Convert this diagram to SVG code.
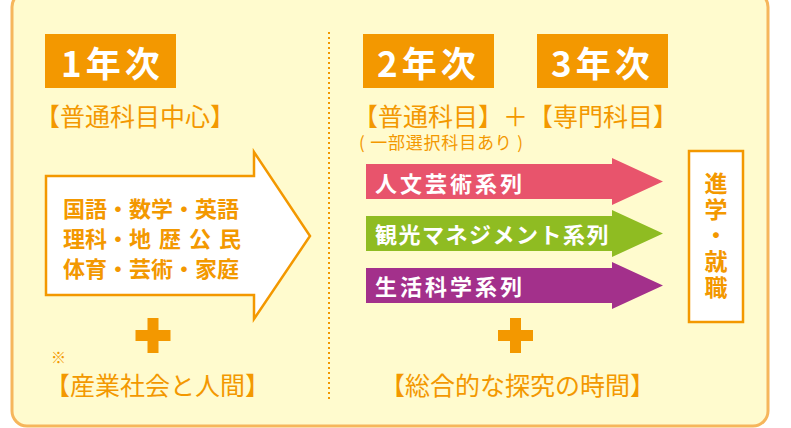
<svg xmlns="http://www.w3.org/2000/svg" width="791" height="428" viewBox="0 0 791 428">
<defs>
<style>
.jp{font-family:"Noto Sans CJK JP","Noto Sans",sans-serif}
.lbl{font-size:25px;fill:#F39800;font-weight:400}
.year{font-size:35px;fill:#fff;font-weight:700;letter-spacing:4px}
.yb{fill:#F39800}
.subj{font-size:22px;fill:#F39800;font-weight:700}
.ser{font-size:22px;fill:#fff;font-weight:700;letter-spacing:3px}
.plus{fill:#F39800}
</style>
</defs>
<rect x="12" y="-8" width="756" height="434" rx="15" fill="#FFFBCE" stroke="#F6B65C" stroke-width="3"/>
<g id="connectors">
<line x1="329" y1="32" x2="329" y2="399" stroke="#F39800" stroke-width="2" stroke-dasharray="2 3"/>
</g>
<g id="year1">
<rect class="yb" x="45" y="34" width="131" height="54"/>
<text class="jp year" x="61" y="77">1年次</text>
</g>
<g id="year2">
<rect class="yb" x="363" y="34" width="131" height="54"/>
<text class="jp year" x="377" y="77">2年次</text>
</g>
<g id="year3">
<rect class="yb" x="537" y="34" width="131" height="54"/>
<text class="jp year" x="551" y="77">3年次</text>
</g>
<g id="label-general">
<text class="jp lbl" x="35" y="126">【普通科目中心】</text>
</g>
<g id="general-arrow">
<path d="M46,176 H254 V152 L310,236 L254,319 V295 H46 Z" fill="#fff" stroke="#F39800" stroke-width="2.5"/>
<text class="jp subj" x="63" y="217">国語・数学・英語</text>
<text class="jp subj" y="247"><tspan x="63">理科・</tspan><tspan x="129 159 189 219">地歴公民</tspan></text>
<text class="jp subj" x="63" y="277">体育・芸術・家庭</text>
</g>
<g id="plus-left">
<rect class="plus" x="135.5" y="330" width="35" height="11"/>
<rect class="plus" x="147.5" y="318" width="11" height="35"/>
</g>
<g id="label-sangyo">
<text class="jp" x="51" y="363" font-size="15" fill="#F39800">※</text>
<text class="jp lbl" x="45" y="395">【産業社会と人間】</text>
</g>
<g id="label-senmon">
<text class="jp lbl" x="353" y="126">【普通科目】＋【専門科目】</text>
<text class="jp" x="359" y="149" font-size="17" fill="#F39800" letter-spacing="0.8">( 一部選択科目あり )</text>
</g>
<g id="series-jinbun">
<path d="M366,164 H612 V158 L663,181.5 L612,205 V199 H366 Z" fill="#E8546C"/>
<text class="jp ser" x="375" y="192">人文芸術系列</text>
</g>
<g id="series-kanko">
<path d="M366,216 H612 V210 L663,233.5 L612,257 V251 H366 Z" fill="#8FBC22"/>
<text class="jp ser" x="375" y="243" style="letter-spacing:1.5px">観光マネジメント系列</text>
</g>
<g id="series-seikatsu">
<path d="M366,268 H612 V262 L663,285.5 L612,309 V303 H366 Z" fill="#A3308B"/>
<text class="jp ser" x="375" y="295">生活科学系列</text>
</g>
<g id="shinro">
<rect x="689" y="151" width="54" height="171" fill="#fff" stroke="#F39800" stroke-width="2.5"/>
<text class="jp" x="716" y="172" font-size="23" font-weight="700" fill="#F39800" writing-mode="vertical-rl" letter-spacing="3">進学・就職</text>
</g>
<g id="plus-right">
<rect class="plus" x="498" y="330" width="35" height="11"/>
<rect class="plus" x="510" y="318" width="11" height="35"/>
</g>
<g id="label-tankyu">
<text class="jp lbl" x="380" y="395">【総合的な探究の時間】</text>
</g>
</svg>
